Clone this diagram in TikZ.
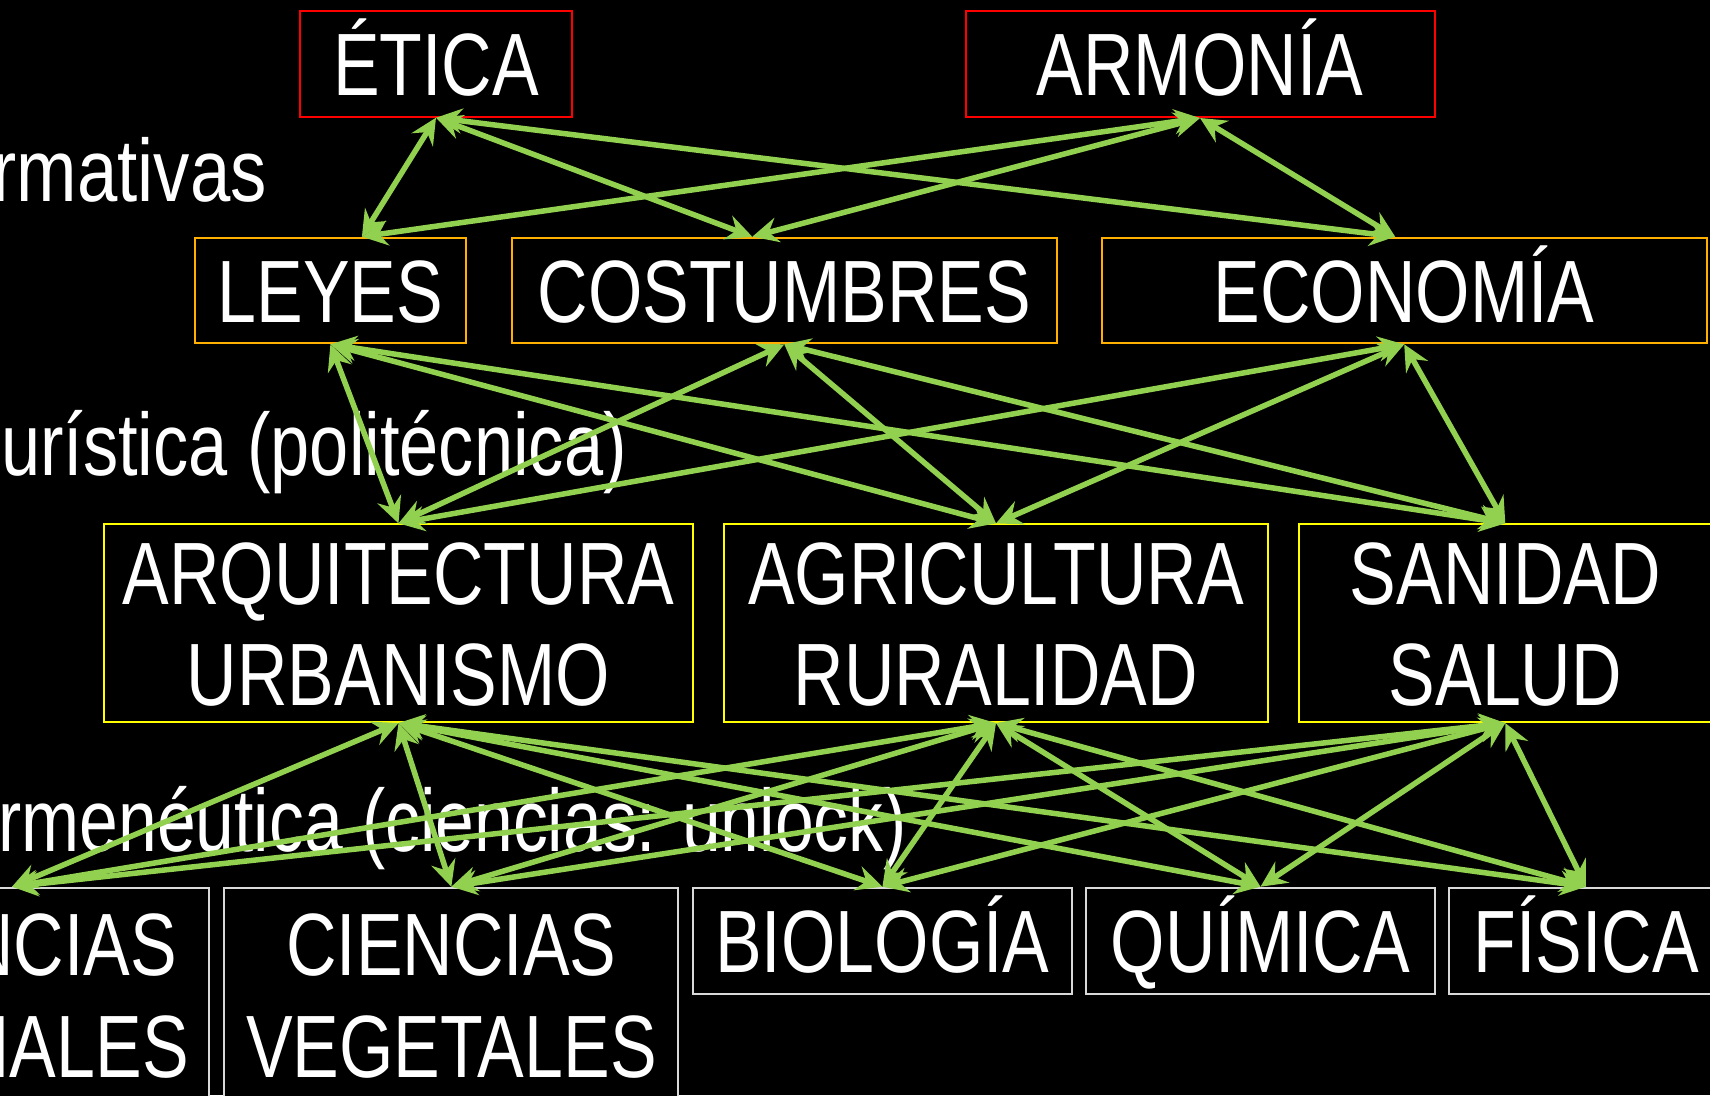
\documentclass[tikz,border=0pt]{standalone}
\usepackage{fontspec}
\setmainfont{Liberation Sans}[FakeStretch=0.79]
\newfontfamily\labfontA{Liberation Sans}[FakeStretch=0.82]
\newfontfamily\labfontB{Liberation Sans}[FakeStretch=0.795]
\newfontfamily\labfontC{Liberation Sans}[FakeStretch=0.787]
\usetikzlibrary{arrows.meta,calc}
\definecolor{lgreen}{HTML}{92D050}
\definecolor{boxred}{HTML}{FF0000}
\definecolor{boxorange}{HTML}{FFB000}
\definecolor{boxyellow}{HTML}{FFFF00}
\definecolor{boxgray}{HTML}{D9D9D9}
\begin{document}
\begin{tikzpicture}[x=1bp,y=-1bp,
  every node/.style={font=\fontsize{88.5bp}{101.7bp}\selectfont, text=white},
  box/.style={draw, line width=2bp, fill=black, inner sep=0pt, text height=63.4bp, text depth=0pt, align=center},
  twoline/.style={text height=165.1bp, text depth=0pt},
  lab/.style={anchor=base east, inner sep=0pt},
  link/.style={draw=lgreen, line width=5.5bp, {Stealth[length=26bp,width=25bp,inset=9bp]}-{Stealth[length=26bp,width=25bp,inset=9bp]}}
]
\useasboundingbox (0,0) rectangle (1710,1095);
\clip (0,0) rectangle (1710,1095);
\fill[black] (0,0) rectangle (1710,1095);

% side labels
\node[lab, font=\labfontA\fontsize{88.5bp}{101.7bp}\selectfont] (normlab) at (267,201.7) {Normativas};
\node[lab, font=\labfontB\fontsize{88.5bp}{101.7bp}\selectfont] (heurlab) at (627,475) {Heurística (politécnica)};
\node[lab, font=\labfontC\fontsize{88.5bp}{101.7bp}\selectfont] (hermlab) at (907,851.7) {Hermenéutica (ciencias: unlock)};

% level 1
\node[box, draw=boxred, minimum width=272bp, minimum height=106bp] (etica) at (436,63.7) {ÉTICA};
\node[box, draw=boxred, minimum width=469bp, minimum height=106bp] (armonia) at (1200,64) {ARMONÍA};
% level 2
\node[box, draw=boxorange, minimum width=271bp, minimum height=105.6bp] (leyes) at (330.4,290.5) {LEYES};
\node[box, draw=boxorange, minimum width=545bp, minimum height=105.6bp] (costumbres) at (784.3,290.5) {COSTUMBRES};
\node[box, draw=boxorange, minimum width=605bp, minimum height=105.6bp] (economia) at (1404.2,290.5) {ECONOMÍA};
% level 3
\node[box, twoline, draw=boxyellow, minimum width=589.5bp, minimum height=197.7bp] (arq) at (398.5,623.2) {ARQUITECTURA\\URBANISMO};
\node[box, twoline, draw=boxyellow, minimum width=544bp, minimum height=197.7bp] (agri) at (996,623.2) {AGRICULTURA\\RURALIDAD};
\node[box, twoline, draw=boxyellow, minimum width=413.4bp, minimum height=197.7bp] (sani) at (1505.3,623.2) {SANIDAD\\SALUD};
% level 4
\node[box, twoline, draw=boxgray, minimum width=394bp, minimum height=214.6bp] (animales) at (12,995) {CIENCIAS\\ANIMALES};
\node[box, twoline, draw=boxgray, minimum width=454.1bp, minimum height=214.6bp] (vegetales) at (451.35,995) {CIENCIAS\\VEGETALES};
\node[box, draw=boxgray, minimum width=378.4bp, minimum height=106.3bp] (biologia) at (882.4,940.85) {BIOLOGÍA};
\node[box, draw=boxgray, minimum width=348.2bp, minimum height=106.3bp] (quimica) at (1260.5,940.85) {QUÍMICA};
\node[box, draw=boxgray, minimum width=274bp, minimum height=106.3bp] (fisica) at (1586,940.85) {FÍSICA};

% attachment points on level 2 tops
\coordinate (leyesT) at ($(leyes.north)+(31.5,0)$);
\coordinate (costT) at ($(costumbres.north)+(-32,0)$);
\coordinate (econT) at ($(economia.north)+(-9,0)$);

% connectors
\foreach \a in {etica,armonia}
  \foreach \b in {leyesT,costT,econT}
    \draw[link] (\a.south) -- (\b);
\foreach \a in {leyes,costumbres,economia}
  \foreach \b in {arq,agri,sani}
    \draw[link] (\a.south) -- (\b.north);
\foreach \a in {arq,agri,sani}
  \foreach \b in {animales,vegetales,biologia,quimica,fisica}
    \draw[link] (\a.south) -- (\b.north);
\end{tikzpicture}
\end{document}
